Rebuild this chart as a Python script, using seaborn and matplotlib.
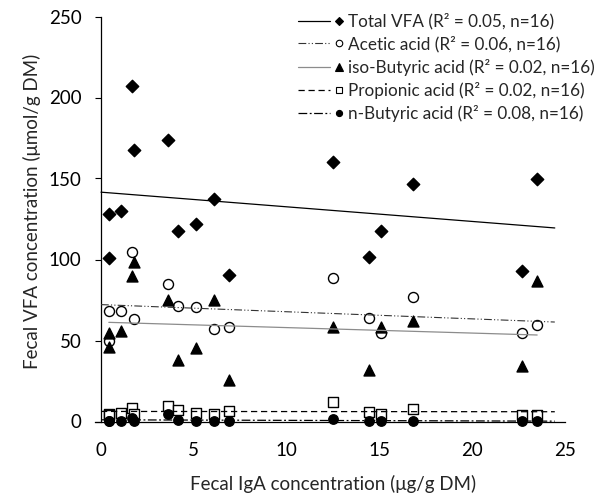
import numpy as np
import pandas as pd
import matplotlib
matplotlib.use("Agg")
import matplotlib.pyplot as plt
import seaborn as sns
from matplotlib.lines import Line2D
from matplotlib.legend_handler import HandlerBase

# ---- data ----
iga = [0.42, 0.44, 1.08, 1.65, 1.80, 3.63, 4.13, 5.10, 6.07, 6.90,
       12.52, 14.46, 15.09, 16.80, 22.66, 23.50]
total_vfa = [128, 101, 130, 207, 167.5, 174, 117.3, 121.8, 137.2, 90.3,
             160, 101.4, 117.3, 146.3, 93, 149.8]
acetic = [68, 50, 68.5, 104.6, 63, 84.6, 71.4, 70.8, 57.2, 58.2,
          88.3, 64.1, 54.5, 76.9, 54.7, 59.7]
iso_butyric = [54.5, 46, 55.7, 89.8, 98.7, 75, 38, 45.5, 75.3, 25.6,
               58.1, 32, 58.1, 62, 34.4, 86.8]
propionic = [4.5, 4, 5, 8.5, 4.5, 9.8, 7, 5, 4.4, 6.5,
             12.3, 5.8, 4.7, 7.8, 4.3, 4.3]
n_butyric = [0.3, 0.3, 0.3, 2.0, 0.3, 4.5, 0.8, 0.3, 0.3, 0.2,
             1.5, 0.3, 0.2, 0.3, 0.3, 0.2]
labels = ["Total VFA (R\u00b2 = 0.05, n=16)",
          "Acetic acid (R\u00b2 = 0.06, n=16)",
          "iso-Butyric acid (R\u00b2 = 0.02, n=16)",
          "Propionic acid (R\u00b2 = 0.02, n=16)",
          "n-Butyric acid (R\u00b2 = 0.08, n=16)"]
x_ticks = [0, 5, 10, 15, 20, 25]
y_ticks = [0, 50, 100, 150, 200, 250]

sns.set_style("white")
plt.rcParams["font.family"] = ["Lato", "DejaVu Sans"]

fig = plt.figure(figsize=(6.16, 4.99), dpi=100)
ax = fig.add_axes([101 / 616, 77.5 / 499, 464 / 616, 405 / 499])

series = [
    dict(y=total_vfa, marker="D", s=40, fc="black", ec="black",
         ls="-", lc="black", lw=0.9, ext=(0, 24.45)),
    dict(y=acetic, marker="o", s=52, fc="white", ec="black",
         ls=(0, (7, 2, 1, 2, 1, 2)), lc="#333333", lw=0.8, ext=(0, 24.45)),
    dict(y=iso_butyric, marker="^", s=62, fc="black", ec="black",
         ls="-", lc="#8c8c8c", lw=0.9, ext=None),
    dict(y=propionic, marker="s", s=48, fc="white", ec="black",
         ls=(0, (5, 3)), lc="black", lw=0.9, ext=(0, 24.45)),
    dict(y=n_butyric, marker="o", s=46, fc="black", ec="black",
         ls=(0, (7, 2, 1.5, 2)), lc="black", lw=0.9, ext=(0, 24.45)),
]

x_arr = np.array(iga)
handles = []
for i, sd in enumerate(series):
    df = pd.DataFrame({"x": iga, "y": sd["y"]})
    sns.scatterplot(data=df, x="x", y="y", marker=sd["marker"], s=sd["s"],
                    color=sd["fc"], edgecolor=sd["ec"], linewidth=1.0,
                    ax=ax, clip_on=False, zorder=3 + i * 0.1)
    slope, icpt = np.polyfit(x_arr, np.array(sd["y"]), 1)
    if sd["ext"] is None:
        xs = np.array([x_arr.min(), x_arr.max()])
    else:
        xs = np.array(sd["ext"])
    ax.plot(xs, icpt + slope * xs, linestyle=sd["ls"], color=sd["lc"],
            lw=sd["lw"], zorder=5, clip_on=False)
    lh = Line2D([], [], linestyle=sd["ls"], color=sd["lc"], lw=sd["lw"])
    mh = Line2D([], [], linestyle="None", marker=sd["marker"],
                markersize=np.sqrt(sd["s"]) * 0.65, markerfacecolor=sd["fc"],
                markeredgecolor=sd["ec"], markeredgewidth=0.8)
    handles.append((lh, mh))


class LineMarkerHandler(HandlerBase):
    def create_artists(self, legend, orig_handle, xdescent, ydescent,
                       width, height, fontsize, trans):
        lh, mh = orig_handle
        y = height / 2.0 - ydescent
        l = Line2D([-xdescent, -xdescent + width * 0.72], [y, y])
        l.update_from(lh)
        l.set_transform(trans)
        m = Line2D([-xdescent + width * 0.93], [y])
        m.update_from(mh)
        m.set_linestyle("None")
        m.set_transform(trans)
        return [l, m]


ax.set_xlim(0, 25)
ax.set_ylim(0, 250)
ax.set_xticks(x_ticks)
ax.set_yticks(y_ticks)
ax.tick_params(axis="x", length=0, pad=15, labelsize=13.5, colors="black")
ax.tick_params(axis="y", direction="out", length=4, width=0.8, pad=10,
               labelsize=13.5, colors="black", left=True)
for side in ["top", "right"]:
    ax.spines[side].set_visible(False)
for side in ["left", "bottom"]:
    ax.spines[side].set_color("black")
    ax.spines[side].set_linewidth(0.9)
ax.spines["bottom"].set_bounds(-0.35, 25)

ax.set_xlabel("Fecal IgA concentration (\u03bcg/g DM)", fontsize=13.5)
ax.set_ylabel("Fecal VFA concentration (\u03bcmol/g DM)", fontsize=13.5)
ax.xaxis.set_label_coords(0.5, -0.132)
ax.yaxis.set_label_coords(-0.13, 0.52)

leg = fig.legend(handles, labels, handler_map={tuple: LineMarkerHandler()},
                 loc="upper left", bbox_to_anchor=(298 / 616, 1 - 13 / 499),
                 frameon=False, fontsize=12.3, handlelength=2.6,
                 handletextpad=0.35, labelspacing=0.37, borderpad=0,
                 borderaxespad=0)

fig.savefig("out.png", dpi=100)
